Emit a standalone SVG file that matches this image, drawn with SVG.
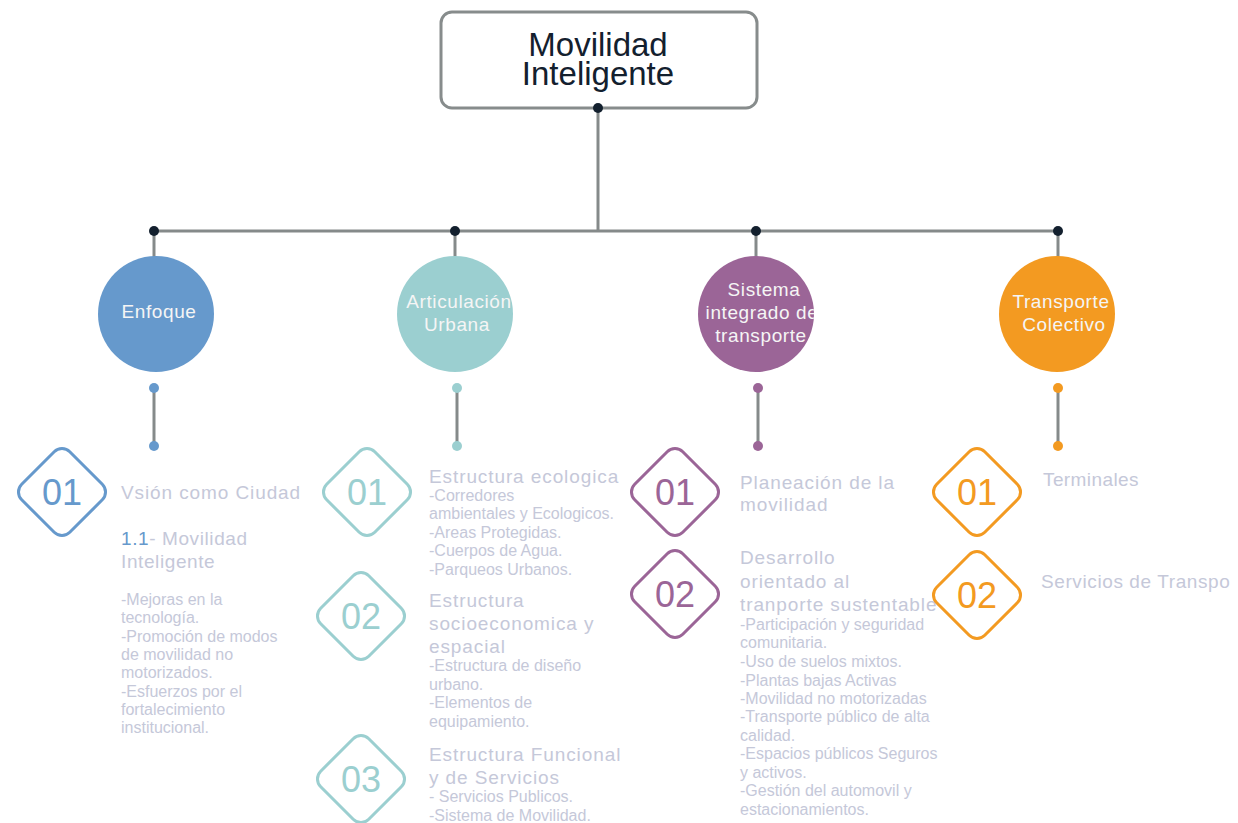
<svg xmlns="http://www.w3.org/2000/svg" xmlns:xlink="http://www.w3.org/1999/xlink" width="1238" height="823" viewBox="0 0 1238 823">
<style>
text{font-family:"Liberation Sans",Arial,sans-serif}
.title{font-size:33px;fill:#13202e;text-anchor:middle}
.clab{font-size:19px;fill:#f5f5f5;text-anchor:middle;letter-spacing:0.6px}
.num{font-size:36px;text-anchor:middle}
.head{font-size:19px;fill:#c5c8d9;letter-spacing:0.9px}
.item{font-size:16px;fill:#c5c8d9}
.conn{stroke:#858a8a;stroke-width:3;fill:none}
.dk{fill:#13202e}
.blue{fill:#6699cc}.teal{fill:#9bcfd0}.purp{fill:#9b6597}.oran{fill:#f39a21}
.dblue{stroke:#6699cc}.dteal{stroke:#9bcfd0}.dpurp{stroke:#9b6597}.doran{stroke:#f39a21}
.dia{fill:none;stroke-width:3}
</style>
<defs>
<rect id="dia" x="-34" y="-34" width="68" height="68" rx="11" ry="11" transform="rotate(45)"/>
<clipPath id="c1"><circle cx="156" cy="314" r="58"/></clipPath>
<clipPath id="c2"><circle cx="455" cy="314" r="58"/></clipPath>
<clipPath id="c3"><circle cx="756" cy="314" r="58"/></clipPath>
<clipPath id="c4"><circle cx="1057" cy="314" r="58"/></clipPath>
<clipPath id="edge"><rect x="0" y="0" width="1232" height="823"/></clipPath>
</defs>

<g id="root">
<rect x="441" y="12" width="316" height="96" rx="11" ry="11" fill="#ffffff" stroke="#878c8c" stroke-width="3"/>
<text class="title"><tspan x="598" y="56">Movilidad</tspan><tspan x="598" y="85">Inteligente</tspan></text>
</g>

<g id="connectors">
<line class="conn" x1="598" y1="108" x2="598" y2="231"/>
<line class="conn" x1="154" y1="231" x2="1058" y2="231"/>
<line class="conn" x1="154" y1="231" x2="154" y2="258"/>
<line class="conn" x1="455" y1="231" x2="455" y2="258"/>
<line class="conn" x1="756" y1="231" x2="756" y2="258"/>
<line class="conn" x1="1058" y1="231" x2="1058" y2="258"/>
<circle class="dk" cx="598" cy="108" r="5"/>
<circle class="dk" cx="154" cy="231" r="5"/>
<circle class="dk" cx="455" cy="231" r="5"/>
<circle class="dk" cx="756" cy="231" r="5"/>
<circle class="dk" cx="1058" cy="231" r="5"/>
<line class="conn" x1="154" y1="388" x2="154" y2="446"/>
<circle class="blue" cx="154" cy="388" r="5"/><circle class="blue" cx="154" cy="446" r="5"/>
<line class="conn" x1="457" y1="388" x2="457" y2="446"/>
<circle class="teal" cx="457" cy="388" r="5"/><circle class="teal" cx="457" cy="446" r="5"/>
<line class="conn" x1="758" y1="388" x2="758" y2="446"/>
<circle class="purp" cx="758" cy="388" r="5"/><circle class="purp" cx="758" cy="446" r="5"/>
<line class="conn" x1="1058" y1="388" x2="1058" y2="446"/>
<circle class="oran" cx="1058" cy="388" r="5"/><circle class="oran" cx="1058" cy="446" r="5"/>
</g>

<g id="enfoque">
<circle class="blue" cx="156" cy="314" r="58"/>
<text class="clab" x="159" y="318" clip-path="url(#c1)">Enfoque</text>
</g>
<g id="articulacion">
<circle class="teal" cx="455" cy="314" r="58"/>
<g clip-path="url(#c2)">
<text class="clab" x="459" y="308">Articulación</text>
<text class="clab" x="457" y="331">Urbana</text>
</g>
</g>
<g id="sistema">
<circle class="purp" cx="756" cy="314" r="58"/>
<g clip-path="url(#c3)">
<text class="clab" x="764" y="296">Sistema</text>
<text class="clab" x="762" y="319">integrado de</text>
<text class="clab" x="761" y="342">transporte</text>
</g>
</g>
<g id="transporte">
<circle class="oran" cx="1057" cy="314" r="58"/>
<g clip-path="url(#c4)">
<text class="clab" x="1061" y="308">Transporte</text>
<text class="clab" x="1064" y="331">Colectivo</text>
</g>
</g>

<g id="enfoque-01">
<use xlink:href="#dia" href="#dia" x="62" y="492" class="dia dblue"/>
<text class="num blue" x="62" y="505">01</text>
<text class="head" x="121" y="499">Vsión como Ciudad</text>
<text class="head" x="121" y="545" style="letter-spacing:0.6px"><tspan fill="#6699cc">1.1</tspan>- Movilidad</text>
<text class="head" x="121" y="568" style="letter-spacing:0.6px">Inteligente</text>
<text class="item" x="121" y="605">-Mejoras en la</text>
<text class="item" x="121" y="623">tecnología.</text>
<text class="item" x="121" y="642">-Promoción de modos</text>
<text class="item" x="121" y="660">de movilidad no</text>
<text class="item" x="121" y="678">motorizados.</text>
<text class="item" x="121" y="697">-Esfuerzos por el</text>
<text class="item" x="121" y="715">fortalecimiento</text>
<text class="item" x="121" y="733">institucional.</text>
</g>

<g id="articulacion-01">
<use xlink:href="#dia" href="#dia" x="367" y="492" class="dia dteal"/>
<text class="num teal" x="367" y="505">01</text>
<text class="head" x="429" y="483">Estructura ecologica</text>
<text class="item" x="429" y="501">-Corredores</text>
<text class="item" x="429" y="519">ambientales y Ecologicos.</text>
<text class="item" x="429" y="538">-Areas Protegidas.</text>
<text class="item" x="429" y="556">-Cuerpos de Agua.</text>
<text class="item" x="429" y="575">-Parqueos Urbanos.</text>
</g>
<g id="articulacion-02">
<use xlink:href="#dia" href="#dia" x="361" y="616" class="dia dteal"/>
<text class="num teal" x="361" y="629">02</text>
<text class="head" x="429" y="607">Estructura</text>
<text class="head" x="429" y="630">socioeconomica y</text>
<text class="head" x="429" y="653">espacial</text>
<text class="item" x="429" y="671">-Estructura de diseño</text>
<text class="item" x="429" y="690">urbano.</text>
<text class="item" x="429" y="708">-Elementos de</text>
<text class="item" x="429" y="727">equipamiento.</text>
</g>
<g id="articulacion-03">
<use xlink:href="#dia" href="#dia" x="361" y="779" class="dia dteal"/>
<text class="num teal" x="361" y="792">03</text>
<text class="head" x="429" y="761">Estructura Funcional</text>
<text class="head" x="429" y="784">y de Servicios</text>
<text class="item" x="429" y="802">- Servicios Publicos.</text>
<text class="item" x="429" y="821">-Sistema de Movilidad.</text>
</g>

<g id="sistema-01">
<use xlink:href="#dia" href="#dia" x="675" y="492" class="dia dpurp"/>
<text class="num purp" x="675" y="505">01</text>
<text class="head" x="740" y="489">Planeación de la</text>
<text class="head" x="740" y="511">movilidad</text>
</g>
<g id="sistema-02">
<use xlink:href="#dia" href="#dia" x="675" y="594" class="dia dpurp"/>
<text class="num purp" x="675" y="607">02</text>
<text class="head" x="740" y="564">Desarrollo</text>
<text class="head" x="740" y="588">orientado al</text>
<text class="head" x="740" y="611">tranporte sustentable</text>
<text class="item" x="740" y="630">-Participación y seguridad</text>
<text class="item" x="740" y="648">comunitaria.</text>
<text class="item" x="740" y="667">-Uso de suelos mixtos.</text>
<text class="item" x="740" y="686">-Plantas bajas Activas</text>
<text class="item" x="740" y="704">-Movilidad no motorizadas</text>
<text class="item" x="740" y="722">-Transporte público de alta</text>
<text class="item" x="740" y="741">calidad.</text>
<text class="item" x="740" y="759">-Espacios públicos Seguros</text>
<text class="item" x="740" y="778">y activos.</text>
<text class="item" x="740" y="796">-Gestión del automovil y</text>
<text class="item" x="740" y="815">estacionamientos.</text>
</g>

<g id="transporte-01">
<use xlink:href="#dia" href="#dia" x="977" y="492" class="dia doran"/>
<text class="num oran" x="977" y="505">01</text>
<text class="head" x="1043" y="486" style="letter-spacing:0.4px">Terminales</text>
</g>
<g id="transporte-02">
<use xlink:href="#dia" href="#dia" x="977" y="595" class="dia doran"/>
<text class="num oran" x="977" y="608">02</text>
<text class="head" x="1041" y="588" style="letter-spacing:0.6px" clip-path="url(#edge)">Servicios de Transpo</text>
</g>
</svg>
